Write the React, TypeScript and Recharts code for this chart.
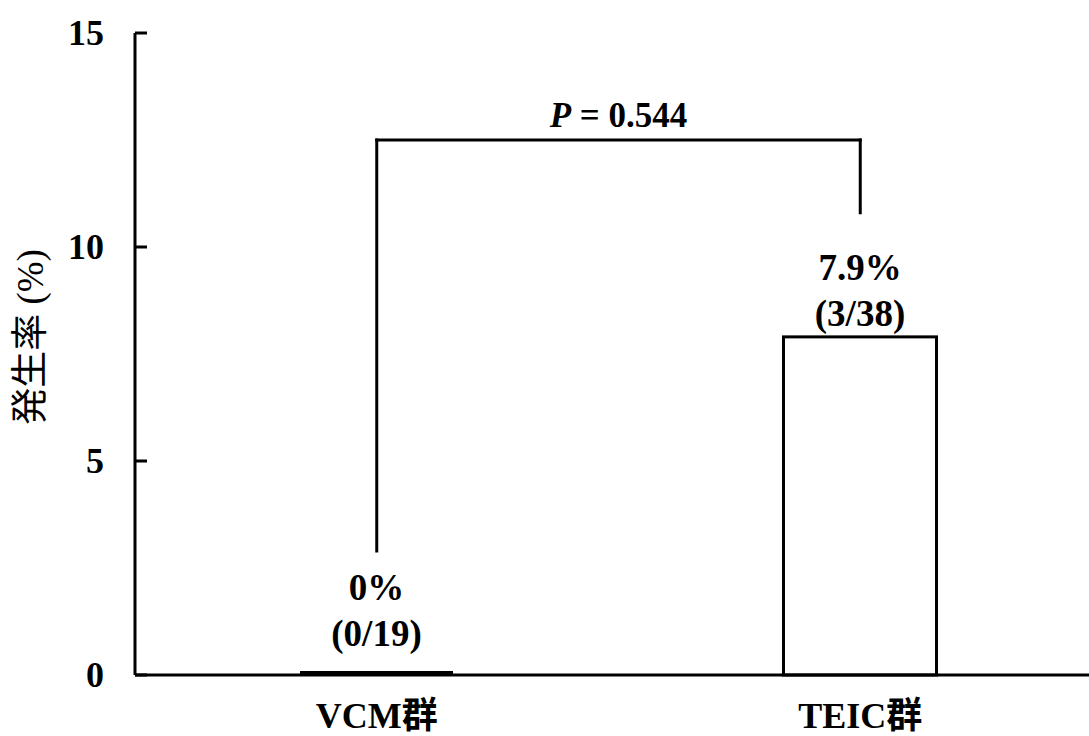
import React from "react";
import { Bar, BarChart, LabelList, ReferenceLine, XAxis, YAxis } from "recharts";

const categories = ["VCM群", "TEIC群"];
const rates = [0, 7.9];
const rateLabels = ["0%", "7.9%"];
const countLabels = ["(0/19)", "(3/38)"];
const yTicks = [0, 5, 10, 15];
const pValue = "0.544";
// bracket heights in axis units
const bracketTop = 12.5;
const bracketLeftEnd = 2.9;
const bracketRightEnd = 10.8;

const data = categories.map((name, i) => ({
  name,
  rate: rates[i],
  rateLabel: rateLabels[i],
  countLabel: countLabels[i],
}));

const SERIF = '"Liberation Serif", "Times New Roman", "Noto Sans CJK JP", serif';

const YTick = (props: any) => {
  const { x, y, payload } = props;
  return (
    <g>
      <line x1={x} x2={x + 12} y1={y} y2={y} stroke="#000" strokeWidth={3} />
      <text
        x={x - 31}
        y={y}
        textAnchor="end"
        dominantBaseline="central"
        fontFamily={SERIF}
        fontWeight="bold"
        fontSize={36}
        fill="#000"
      >
        {payload.value}
      </text>
    </g>
  );
};

const XTick = (props: any) => {
  const { x, y, payload } = props;
  return (
    <text
      x={x}
      y={y + 53}
      textAnchor="middle"
      fontFamily={SERIF}
      fontWeight="bold"
      fontSize={36}
      fill="#000"
    >
      {payload.value}
    </text>
  );
};

const BarShape = (props: any) => {
  const { x, y, width, height } = props;
  if (!height || height < 1) {
    return (
      <line x1={x} x2={x + width} y1={y - 2} y2={y - 2} stroke="#000" strokeWidth={4} />
    );
  }
  return (
    <rect x={x} y={y} width={width} height={height} fill="#fff" stroke="#000" strokeWidth={3} />
  );
};

const renderValueLabel = (props: any) => {
  const { x, y, width, height, index } = props;
  const cx = x + width / 2;
  const base = y - 11 - (height < 1 ? 18 : 0);
  const row = data[index];
  return (
    <g>
      <text
        x={cx}
        y={base - 46}
        textAnchor="middle"
        fontFamily={SERIF}
        fontWeight="bold"
        fontSize={37}
        fill="#000"
      >
        {row.rateLabel}
      </text>
      <text
        x={cx}
        y={base}
        textAnchor="middle"
        fontFamily={SERIF}
        fontWeight="bold"
        fontSize={37}
        fill="#000"
      >
        {row.countLabel}
      </text>
    </g>
  );
};

const renderPLabel = (props: any) => {
  const vb = props.viewBox || {};
  const cx = vb.x + (vb.width || 0) / 2;
  return (
    <text
      x={cx}
      y={vb.y - 13}
      textAnchor="middle"
      fontFamily={SERIF}
      fontWeight="bold"
      fontSize={35}
      fill="#000"
    >
      <tspan fontStyle="italic">P</tspan>
      <tspan> = {pValue}</tspan>
    </text>
  );
};

const renderYLabel = (props: any) => {
  const vb = props.viewBox || {};
  const cx = 30;
  const cy = vb.y + vb.height / 2 - 17;
  return (
    <text
      x={cx}
      y={cy}
      transform={`rotate(-90, ${cx}, ${cy})`}
      textAnchor="middle"
      dominantBaseline="central"
      fontFamily={SERIF}
      fontSize={37}
      fill="#000"
    >
      発生率 (%)
    </text>
  );
};

const bracketStyle = { stroke: "#000", strokeWidth: 3, strokeLinecap: "square" as const };

export default function App() {
  return (
    <div
      style={{
        position: "absolute",
        left: 0,
        top: 0,
        width: 1089,
        height: 736,
        overflow: "hidden",
        background: "#fff",
      }}
    >
      <BarChart
        width={1102}
        height={736}
        data={data}
        margin={{ top: 33, right: 0, bottom: 0, left: 0 }}
        barCategoryGap={0}
      >
        <XAxis
          dataKey="name"
          height={61}
          tickLine={false}
          tickSize={0}
          tickMargin={0}
          axisLine={{ stroke: "#000", strokeWidth: 3 }}
          tick={<XTick />}
        />
        <YAxis
          width={135}
          domain={[0, 15]}
          ticks={yTicks}
          interval={0}
          tickLine={false}
          tickSize={0}
          tickMargin={0}
          axisLine={{ stroke: "#000", strokeWidth: 3 }}
          tick={<YTick />}
          label={{ content: renderYLabel }}
        />
        <Bar dataKey="rate" barSize={153} shape={<BarShape />} isAnimationActive={false}>
          <LabelList dataKey="rate" content={renderValueLabel} />
        </Bar>
        <ReferenceLine
          segment={[
            { x: categories[0], y: bracketLeftEnd },
            { x: categories[0], y: bracketTop },
          ]}
          {...bracketStyle}
        />
        <ReferenceLine
          segment={[
            { x: categories[1], y: bracketRightEnd },
            { x: categories[1], y: bracketTop },
          ]}
          {...bracketStyle}
        />
        <ReferenceLine
          segment={[
            { x: categories[0], y: bracketTop },
            { x: categories[1], y: bracketTop },
          ]}
          {...bracketStyle}
          label={{ content: renderPLabel }}
        />
      </BarChart>
    </div>
  );
}
